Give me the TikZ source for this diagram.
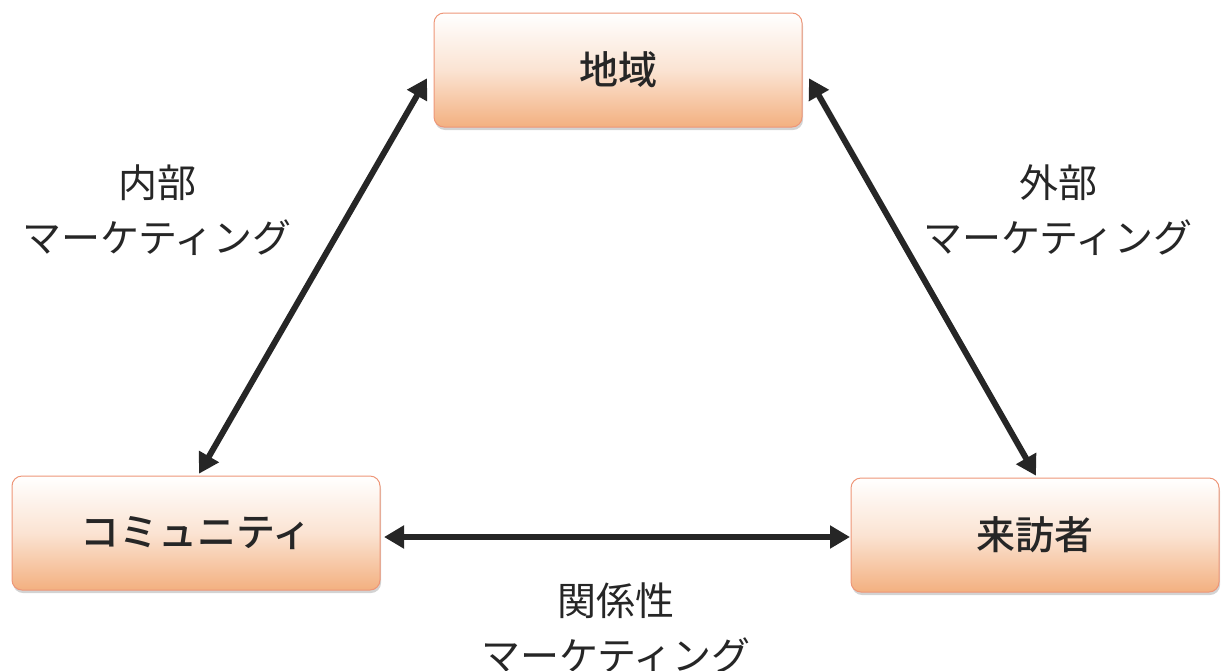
\documentclass[tikz,border=0pt]{standalone}
\usepackage{fontspec}
\newfontfamily\cjk{Noto Sans CJK JP}
\newfontfamily\cjkm{Noto Sans CJK JP Medium}
\usetikzlibrary{arrows.meta,shadows}
\definecolor{peach}{RGB}{243,176,128}
\definecolor{edge}{RGB}{238,150,120}
\definecolor{arr}{RGB}{38,38,38}
\tikzset{
  box/.style={draw=edge, line width=1pt, rounded corners=10pt, top color=white, bottom color=peach, middle color=peach!35,
    minimum width=368pt, minimum height=114pt, font=\cjkm\fontsize{39}{44}\selectfont, text=black!85,
    drop shadow={shadow xshift=1pt, shadow yshift=-3pt, opacity=0.35}},
  lbl/.style={font=\cjk\fontsize{39}{55}\selectfont, align=center, text=black!85},
  dbl/.style={arr, line width=6pt, {Triangle[length=20pt,width=22pt]}-{Triangle[length=20pt,width=22pt]}, shorten <=-2pt, shorten >=-2pt}
}
\begin{document}
\begin{tikzpicture}[x=1pt,y=-1pt]
\useasboundingbox (0,0) rectangle (1222,670);
\node[box] (top) at (618,70) {地域};
\node[box] (left) at (196,533) {コミュニティ};
\node[box] (right) at (1035,535) {来訪者};
\coordinate (tl) at (426,80);
\coordinate (lt) at (200,472);
\coordinate (tr) at (810,80);
\coordinate (rt) at (1035,474);
\coordinate (lr) at (386,537);
\coordinate (rl) at (848,537);
\draw[dbl] (lt) -- (tl);
\draw[dbl] (rt) -- (tr);
\draw[dbl] (lr) -- (rl);
\node[lbl] (l1) at (157,210) {内部\\マーケティング};
\node[lbl] (l2) at (1058,210) {外部\\マーケティング};
\node[lbl] (l3) at (616,628) {関係性\\マーケティング};
\end{tikzpicture}
\end{document}
